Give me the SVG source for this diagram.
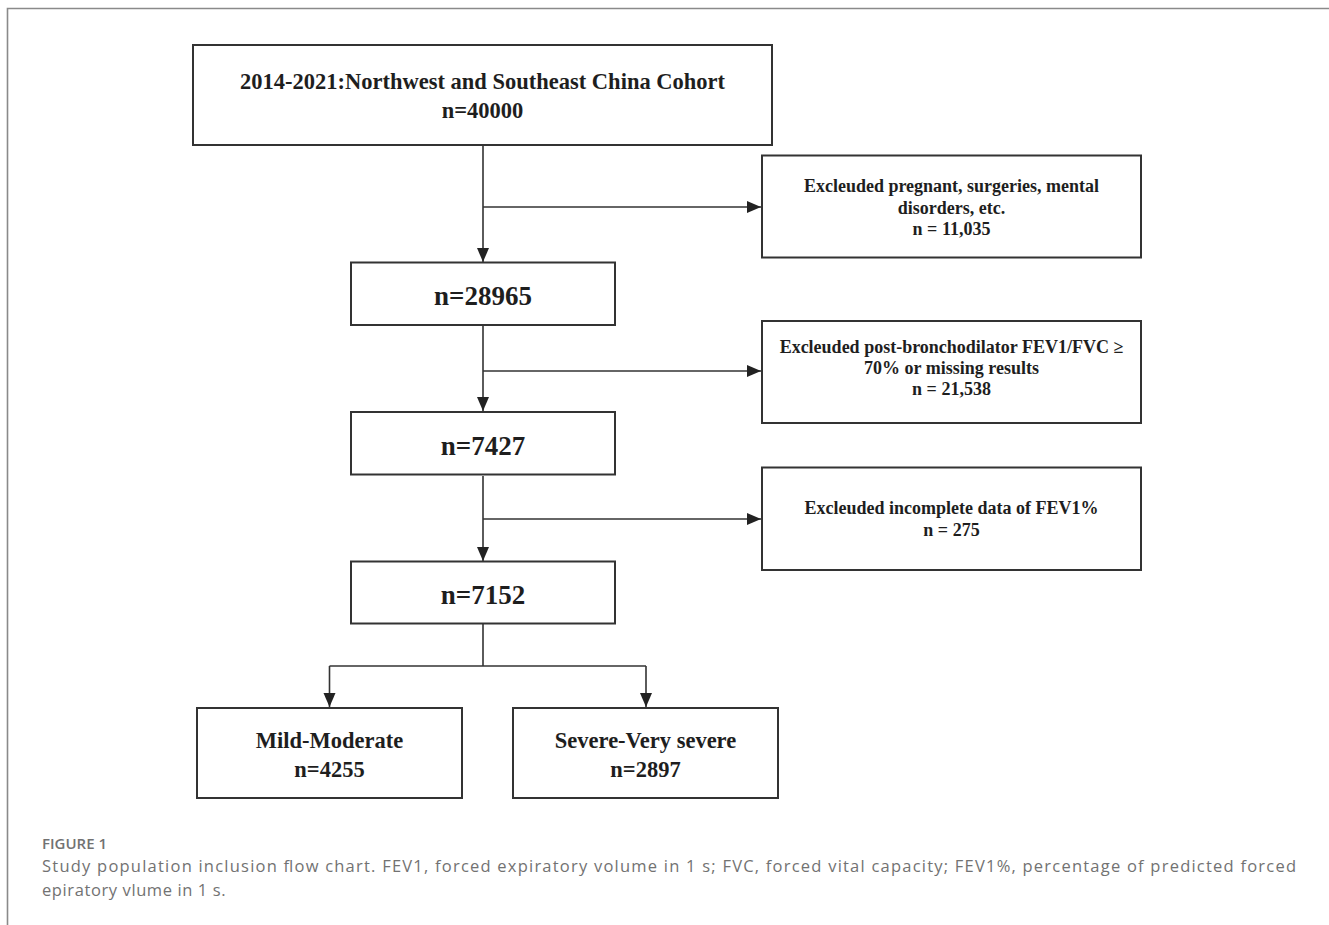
<svg xmlns="http://www.w3.org/2000/svg" width="1329" height="925" viewBox="0 0 1329 925">
  <style>
    .box { fill: #ffffff; stroke: #333333; stroke-width: 2; }
    .conn { fill: none; stroke: #333333; stroke-width: 1.6; }
    .t { font-family: "Liberation Serif", "Times New Roman", serif; font-weight: bold; fill: #1e1e1e; text-anchor: middle; }
    .title { font-size: 22.5px; }
    .big { font-size: 27px; }
    .ex { font-size: 18px; }
    .cap { font-family: "Open Sans", "Noto Sans", sans-serif; fill: #727272; }
  </style>
  <defs>
    <marker id="arrow" markerUnits="userSpaceOnUse" markerWidth="15" markerHeight="13" refX="14" refY="6" orient="auto">
      <path d="M0,0 L14,6 L0,12 z" fill="#222222"/>
    </marker>
  </defs>
  <rect x="0" y="0" width="1329" height="925" fill="#ffffff"/>
  <g id="frame">
    <path d="M7.5,925 V8.5 H1329" fill="none" stroke="#8a8a8a" stroke-width="1.6"/>
  </g>

  <g id="connectors">
    <path class="conn" d="M483,146 V262" marker-end="url(#arrow)"/>
    <path class="conn" d="M483,207 H761" marker-end="url(#arrow)"/>
    <path class="conn" d="M483,326 V411" marker-end="url(#arrow)"/>
    <path class="conn" d="M483,371 H761" marker-end="url(#arrow)"/>
    <path class="conn" d="M483,476 V561" marker-end="url(#arrow)"/>
    <path class="conn" d="M483,519 H761" marker-end="url(#arrow)"/>
    <path class="conn" d="M483,624 V666"/>
    <path class="conn" d="M329.5,666 H646"/>
    <path class="conn" d="M329.5,666 V707" marker-end="url(#arrow)"/>
    <path class="conn" d="M646,666 V707" marker-end="url(#arrow)"/>
  </g>

  <g id="node-cohort">
    <rect class="box" x="193" y="45" width="579" height="100"/>
    <text class="t title" x="482.5" y="89">2014-2021:Northwest and Southeast China Cohort</text>
    <text class="t title" x="482.5" y="118">n=40000</text>
  </g>

  <g id="node-excl1">
    <rect class="box" x="762" y="155.5" width="379" height="102"/>
    <text class="t ex" x="951.5" y="191.5">Excleuded pregnant, surgeries, mental</text>
    <text class="t ex" x="951.5" y="213.5">disorders, etc.</text>
    <text class="t ex" x="951.5" y="235">n = 11,035</text>
  </g>

  <g id="node-28965">
    <rect class="box" x="351" y="262.5" width="264" height="62.5"/>
    <text class="t big" x="483" y="305">n=28965</text>
  </g>

  <g id="node-excl2">
    <rect class="box" x="762" y="321" width="379" height="102"/>
    <text class="t ex" x="951.5" y="353">Excleuded post-bronchodilator FEV1/FVC ≥</text>
    <text class="t ex" x="951.5" y="374">70% or missing results</text>
    <text class="t ex" x="951.5" y="395">n = 21,538</text>
  </g>

  <g id="node-7427">
    <rect class="box" x="351" y="412" width="264" height="62.5"/>
    <text class="t big" x="483" y="455">n=7427</text>
  </g>

  <g id="node-excl3">
    <rect class="box" x="762" y="467.5" width="379" height="102.5"/>
    <text class="t ex" x="951.5" y="513.5">Excleuded incomplete data of FEV1%</text>
    <text class="t ex" x="951.5" y="536">n = 275</text>
  </g>

  <g id="node-7152">
    <rect class="box" x="351" y="561.5" width="264" height="62"/>
    <text class="t big" x="483" y="604">n=7152</text>
  </g>

  <g id="node-mild">
    <rect class="box" x="197" y="708" width="265" height="90"/>
    <text class="t title" x="329.5" y="748">Mild-Moderate</text>
    <text class="t title" x="329.5" y="777">n=4255</text>
  </g>

  <g id="node-severe">
    <rect class="box" x="513" y="708" width="265" height="90"/>
    <text class="t title" x="645.5" y="748">Severe-Very severe</text>
    <text class="t title" x="645.5" y="777">n=2897</text>
  </g>

  <g id="caption">
    <text class="cap" x="42" y="849" font-size="15" font-weight="600">FIGURE 1</text>
    <text class="cap" x="42" y="872" font-size="16.5" textLength="1254" lengthAdjust="spacing">Study population inclusion flow chart. FEV1, forced expiratory volume in 1 s; FVC, forced vital capacity; FEV1%, percentage of predicted forced</text>
    <text class="cap" x="42" y="896" font-size="16.5" letter-spacing="0.6">epiratory vlume in 1 s.</text>
  </g>
</svg>
